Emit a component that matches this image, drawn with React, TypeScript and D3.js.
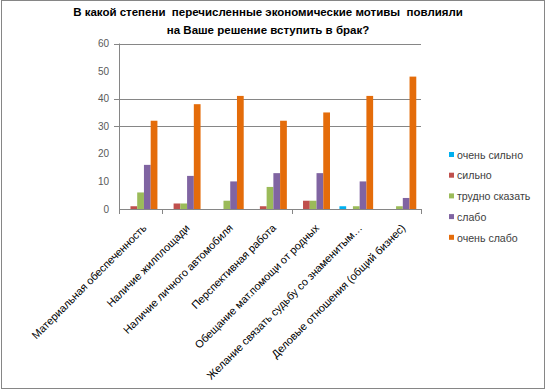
import { useEffect, useRef } from "react";
import * as d3 from "d3";

const categories = [
  "Материальная обеспеченность",
  "Наличие жилплощади",
  "Наличие личного автомобиля",
  "Перспективная работа",
  "Обещание мат.помощи от родных",
  "Желание связать судьбу со знаменитым…",
  "Деловые отношения (общий бизнес)",
];
const seriesNames = ["очень сильно", "сильно", "трудно сказать", "слабо", "очень слабо"];
const veryStrong = [0, 0, 0, 0, 0, 1, 0];
const strong = [1, 2, 0, 1, 3, 0, 0];
const hardToSay = [6, 2, 3, 8, 3, 1, 1];
const weak = [16, 12, 10, 13, 13, 10, 4];
const veryWeak = [32, 38, 41, 32, 35, 41, 48];
const yTicks = [0, 10, 20, 30, 40, 50, 60];
const gridValues = [30, 40, 60];
const xTickIdx = [0, 1, 4, 7];

const colors = ["#00B0F0", "#C0504D", "#9BBB59", "#8064A2", "#E46C0A"];
const font = "'Liberation Sans', Arial, sans-serif";

const App = () => {
  const ref = useRef<SVGSVGElement>(null);

  useEffect(() => {
    const w = 546;
    const h = 391;
    const svg = d3.select(ref.current).attr("width", w).attr("height", h);
    svg.selectAll("*").remove();

    const left = 119, right = 421, top = 43.5, bottom = 209;
    const allSeries = [veryStrong, strong, hardToSay, weak, veryWeak];

    svg.append("rect")
      .attr("x", 1.5).attr("y", 0.5).attr("width", 543).attr("height", 388)
      .attr("fill", "#fff").attr("stroke", "#868686");

    const x = d3.scaleBand().domain(categories).range([left, right]).paddingInner(0).paddingOuter(0);
    const x1 = d3.scaleBand().domain(seriesNames).range([0, x.bandwidth()]).paddingOuter(0.7).paddingInner(0);
    const y = d3.scaleLinear().domain([0, 60]).range([bottom, top]);

    // grid
    svg.append("g").selectAll("line").data(gridValues).join("line")
      .attr("x1", left - 5).attr("x2", right)
      .attr("y1", (d) => Math.round(y(d)) + 0.5).attr("y2", (d) => Math.round(y(d)) + 0.5)
      .attr("stroke", "#868686");

    // y labels
    svg.append("g").selectAll("text").data(yTicks).join("text")
      .attr("x", 109).attr("y", (d) => y(d)).attr("dy", "0.35em")
      .attr("text-anchor", "end").attr("font-family", font).attr("font-size", 10)
      .attr("fill", "#595959").text((d) => d);

    // bars
    allSeries.forEach((vals, si) => {
      svg.append("g").selectAll("rect").data(vals).join("rect")
        .attr("x", (_, i) => (x(categories[i]) ?? 0) + (x1(seriesNames[si]) ?? 0))
        .attr("width", x1.bandwidth())
        .attr("y", (d) => y(d))
        .attr("height", (d) => bottom - y(d))
        .attr("fill", colors[si]);
    });

    // axes
    svg.append("line").attr("x1", left + 0.5).attr("x2", left + 0.5).attr("y1", top).attr("y2", bottom + 5)
      .attr("stroke", "#868686");
    svg.append("line").attr("x1", left).attr("x2", right + 1).attr("y1", bottom + 0.5).attr("y2", bottom + 0.5)
      .attr("stroke", "#868686");
    svg.append("g").selectAll("line").data(xTickIdx).join("line")
      .attr("x1", (d) => Math.round(left + d * x.bandwidth()) + 0.5)
      .attr("x2", (d) => Math.round(left + d * x.bandwidth()) + 0.5)
      .attr("y1", bottom).attr("y2", bottom + 5)
      .attr("stroke", "#868686");

    // x labels
    svg.append("g").selectAll("text").data(categories).join("text")
      .attr("transform", (d) => `translate(${(x(d) ?? 0) + x.bandwidth() / 2 + 4},${bottom + 17}) rotate(-45)`)
      .attr("text-anchor", "end").attr("dy", "0.35em")
      .attr("font-family", font).attr("font-size", 10.8).attr("fill", "#000")
      .text((d) => d);

    // legend
    const lg = svg.append("g").selectAll("g").data(seriesNames).join("g")
      .attr("transform", (_, i) => `translate(449,${155 + i * 20.7})`);
    lg.append("rect").attr("x", 0).attr("y", -3).attr("width", 5).attr("height", 5)
      .attr("fill", (_, i) => colors[i]);
    lg.append("text").attr("x", 8).attr("y", 0).attr("dy", "0.35em")
      .attr("font-family", font).attr("font-size", 10.6).attr("fill", "#404040")
      .text((d) => d);

    // title
    const title = svg.append("text").attr("text-anchor", "middle").attr("font-family", font)
      .attr("font-size", 11.5).attr("font-weight", "bold").attr("fill", "#000")
      .style("white-space", "pre");
    title.append("tspan").attr("x", 268).attr("y", 16).text("В какой степени  перечисленные экономические мотивы  повлияли");
    title.append("tspan").attr("x", 268).attr("y", 34).text("на Ваше решение вступить в брак?");
  }, []);

  return <svg ref={ref} style={{ display: "block", position: "absolute", left: 0, top: 0 }}></svg>;
};

export default App;
